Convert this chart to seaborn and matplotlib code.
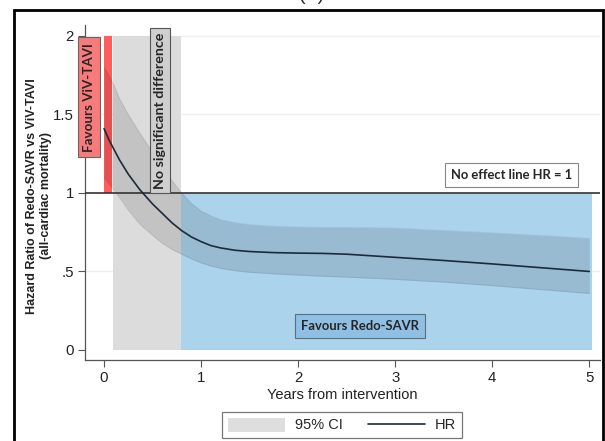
import matplotlib
matplotlib.use("Agg")
import matplotlib.pyplot as plt
import seaborn as sns
import pandas as pd
from matplotlib.patches import Rectangle, Patch
from matplotlib.lines import Line2D

# ---- data ----
years = [0.0, 0.05, 0.1, 0.16, 0.25, 0.37, 0.5, 0.6, 0.7, 0.8, 0.9, 1.0, 1.1, 1.2, 1.35, 1.5,
         1.75, 2.0, 2.25, 2.5, 2.75, 3.0, 3.5, 4.0, 4.5, 5.0]
hr = [1.41, 1.34, 1.28, 1.21, 1.12, 1.02, 0.93, 0.87, 0.81, 0.76, 0.72, 0.69, 0.665, 0.65, 0.635, 0.627,
      0.62, 0.617, 0.615, 0.61, 0.60, 0.59, 0.57, 0.548, 0.524, 0.50]
ci_upper = [1.80, 1.75, 1.69, 1.60, 1.50, 1.38, 1.26, 1.17, 1.08, 1.00, 0.935, 0.885, 0.855, 0.83, 0.81, 0.797,
            0.787, 0.782, 0.78, 0.78, 0.778, 0.775, 0.76, 0.745, 0.728, 0.71]
ci_lower = [1.10, 1.06, 1.02, 0.97, 0.89, 0.80, 0.73, 0.68, 0.64, 0.61, 0.58, 0.555, 0.535, 0.52, 0.505, 0.495,
            0.485, 0.477, 0.47, 0.464, 0.457, 0.45, 0.432, 0.41, 0.385, 0.36]

x_ticks = [0, 1, 2, 3, 4, 5]
y_ticks = [0, 0.5, 1, 1.5, 2]
y_tick_labels = ["0", ".5", "1", "1.5", "2"]

# region boundaries (years / HR)
red_span = (0.0, 0.085)
grey_span = (0.093, 0.794)
blue_span = (0.794, 5.03)

df = pd.DataFrame({"Years": years, "HR": hr, "lo": ci_lower, "hi": ci_upper})

sns.set_style("white")
plt.rcParams["font.family"] = ["Liberation Sans", "DejaVu Sans"]

fig = plt.figure(figsize=(6.05, 4.41), dpi=100)
ax = fig.add_axes([85 / 605, 1 - 360 / 441, (600 - 85) / 605, (360 - 25) / 441])

ax.set_xlim(-0.196, 5.11)
ax.set_ylim(-0.064, 2.07)

# grid lines
for gy in [0.5, 1.5, 2.0]:
    ax.axhline(gy, color="#eeeeee", lw=1.0, zorder=0)

# shaded regions
ax.fill_between(list(red_span), 1, 2, color="#ff5c5c", lw=0, zorder=1)
ax.fill_between(list(grey_span), 0, 2, color="#dcdcdc", lw=0, zorder=1)
ax.fill_between(list(blue_span), 0, 1, color="#abd3ec", lw=0, zorder=1)

# no-effect line
ax.axhline(1, color="#333333", lw=1.2, zorder=4)

# CI band and HR line
ax.fill_between(df["Years"], df["lo"], df["hi"], color="black", alpha=0.11, lw=0, zorder=2)
ax.plot(df["Years"], df["hi"], color="#000000", alpha=0.08, lw=0.8, zorder=2)
ax.plot(df["Years"], df["lo"], color="#000000", alpha=0.08, lw=0.8, zorder=2)
sns.lineplot(data=df, x="Years", y="HR", ax=ax, color="#1b2b3b", lw=1.2, zorder=5)

# annotations
bold = dict(family=["Lato", "DejaVu Sans"], fontweight="bold")
ax.text(-0.155, 1.61, "Favours ViV-TAVI", rotation=90, ha="center", va="center", fontsize=9.6,
        bbox=dict(boxstyle="square,pad=0.4", fc="#f77b7b", ec="#666666", lw=0.8), zorder=6, **bold)
ax.text(0.577, 1.525, "No significant difference", rotation=90, ha="center", va="center", fontsize=10.3,
        bbox=dict(boxstyle="square,pad=0.3", fc="#cfcfcf", ec="#555555", lw=0.8), zorder=6, **bold)
ax.text(4.196, 1.115, "No effect line HR = 1", ha="center", va="center", fontsize=9.4,
        bbox=dict(boxstyle="square,pad=0.45", fc="white", ec="#888888", lw=0.8), zorder=6, **bold)
ax.text(2.64, 0.153, "Favours Redo-SAVR", ha="center", va="center", fontsize=9.4,
        bbox=dict(boxstyle="square,pad=0.45", fc="#8fbfe2", ec="#5a6f80", lw=0.8), zorder=6, **bold)

# axes styling
ax.set_xticks(x_ticks)
ax.set_xticklabels([str(t) for t in x_ticks])
ax.set_yticks(y_ticks)
ax.set_yticklabels(y_tick_labels)
ax.tick_params(axis="both", which="major", length=5, width=0.8, color="#555555",
               labelsize=10.8, labelcolor="#222222", direction="out", pad=3, left=True, bottom=True)
for s in ["top", "right"]:
    ax.spines[s].set_visible(False)
for s in ["left", "bottom"]:
    ax.spines[s].set_color("#555555")
    ax.spines[s].set_linewidth(0.9)

ax.set_xlabel("Years from intervention", fontsize=10.5, color="#222222", labelpad=2)
ax.set_ylabel("Hazard Ratio of Redo-SAVR vs ViV-TAVI\n(all-cardiac mortality)",
              fontsize=9.0, fontweight="bold", color="#222222", linespacing=1.2)
ax.yaxis.set_label_coords(-0.064, 0.49)

# legend
handles = [Patch(facecolor="#dedede", edgecolor="none"),
           Line2D([], [], color="#1b2b3b", lw=1.2)]
leg = fig.legend(handles, ["95% CI", "HR"], loc="center", bbox_to_anchor=(342 / 605, 1 - 425 / 441),
                 ncol=2, frameon=True, fancybox=False, fontsize=10.5, handlelength=3.9,
                 handleheight=1.1, columnspacing=1.7, handletextpad=0.7, borderpad=0.4)
leg.get_frame().set_edgecolor("#555555")
leg.get_frame().set_linewidth(0.9)

# outer frame and cut-off title
fig.add_artist(Rectangle((14 / 605, -0.05), (603 - 14) / 605, 1.05 - 10 / 441,
                         transform=fig.transFigure, fill=False, ec="black", lw=2))
fig.text(312 / 605, 1 - 4 / 441, "(E)", ha="center", va="bottom", fontsize=14)

fig.savefig("out.png", dpi=100)
